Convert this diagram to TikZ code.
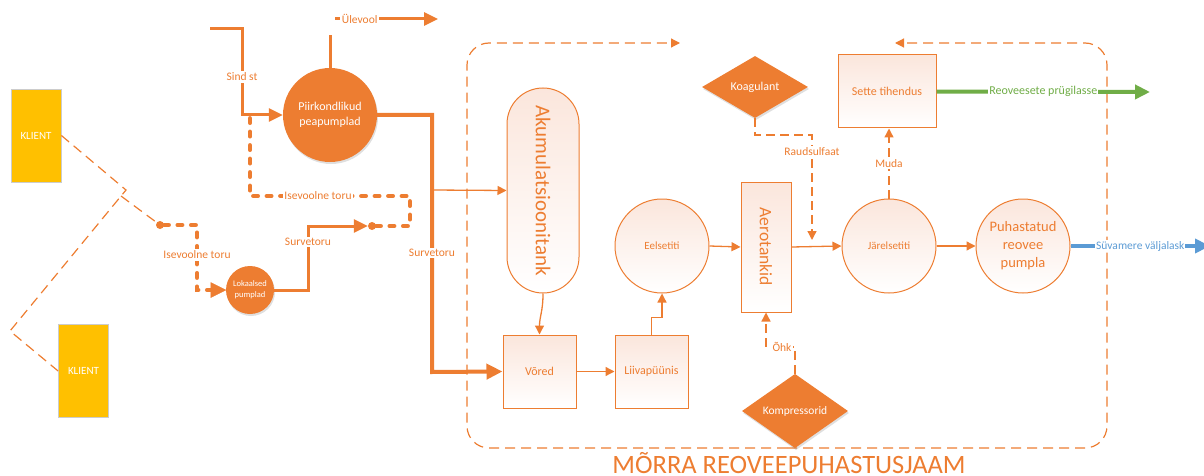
\documentclass[tikz,border=0pt]{standalone}
\usepackage{fontspec}
\setmainfont{Carlito}
\usetikzlibrary{arrows.meta,shapes.geometric,shadows}
\definecolor{org}{HTML}{ED7D31}
\definecolor{yel}{HTML}{FFC000}
\definecolor{grn}{HTML}{70AD47}
\definecolor{blu}{HTML}{5B9BD5}
\definecolor{pk}{HTML}{FBE6DC}
\newcommand\fsz[2]{\fontsize{#1}{#2}\selectfont}
\tikzset{
  client/.style={draw=black!20, line width=0.8pt, fill=yel, minimum width=50pt, minimum height=93pt, inner sep=0pt, text=white, font=\fsz{11}{13}},
  solidc/.style={circle, fill=org, text=white, inner sep=0pt, align=center, drop shadow={opacity=0.25, shadow xshift=1pt, shadow yshift=-2pt}},
  soliddia/.style={diamond, fill=org, text=white, inner sep=0pt, minimum width=106pt, minimum height=62pt, font=\fsz{12}{14}, drop shadow={opacity=0.25, shadow xshift=1pt, shadow yshift=-2pt}},
  lightbox/.style={draw=org, line width=1pt, top color=pk, bottom color=white, text=org, inner sep=0pt, align=center},
  lightc/.style={lightbox, circle, minimum size=94pt},
  tipS/.style={-{Triangle[length=9pt,width=9pt]}},
  tipL/.style={-{Triangle[length=14pt,width=13pt]}},
  thinc/.style={draw=org, line width=1.3pt},
  dashc/.style={draw=org, line width=1.3pt, dash pattern=on 9pt off 5pt},
  pipe/.style={draw=org, line width=3pt},
  bigpipe/.style={draw=org, line width=4pt},
  dotpipe/.style={draw=org, line width=4.5pt, dash pattern=on 4.5pt off 9pt, line cap=round},
  lbl/.style={fill=white, inner sep=1.5pt, text=org, font=\fsz{11.5}{13}},
  dot/.style={circle, fill=org, minimum size=8pt, inner sep=0pt},
}
\begin{document}
\begin{tikzpicture}[x=1pt,y=-1pt]
\useasboundingbox (0,0) rectangle (1204,476);

% clients
\node[client] (k1) at (36,135.5) {KLIENT};
\node[client] (k2) at (83.5,371) {KLIENT};
\node[dot] (d1) at (160,225) {};
\node[dot] (d2) at (372,226) {};
\coordinate (j1) at (126,190);
\coordinate (j2) at (121,196);
\coordinate (j3) at (10,331);
\draw[org, line width=1.2pt, dash pattern=on 10pt off 6pt] (k1.east) -- (j1) -- (j3) -- (k2.west);
\draw[org, line width=1.2pt, dash pattern=on 10pt off 6pt] (j2) -- (d1);

% pump stations
\node[solidc, minimum size=94pt, font=\fsz{12}{15.5}] (pp) at (330,115) {Piirkondlikud\\peapumplad};
\node[solidc, minimum size=48pt, font=\fsz{8.5}{11}] (lp) at (250,290) {Lokaalsed\\pumplad};

% station boundary
\draw[org, line width=1.2pt, dash pattern=on 10pt off 6pt, rounded corners=22pt, tipS] (787,448) -- (467,448) -- (467,43) -- (680,43);
\draw[org, line width=1.2pt, dash pattern=on 10pt off 6pt, rounded corners=22pt, tipS] (787,448) -- (1107,448) -- (1107,43) -- (895,43);
\node[text=org, font=\fsz{26.5}{30}, anchor=base, inner sep=0pt] (title) at (789,473.5) {MÕRRA REOVEEPUHASTUSJAAM};

% process units
\node[lightbox, rounded corners=36pt, minimum width=72pt, minimum height=205pt, font=\fsz{21}{24}] (akt) at (543,190.5) {\rotatebox{-90}{Akumulatsioonitank}};
\node[lightbox, minimum width=73pt, minimum height=73pt, font=\fsz{12}{14}] (vo) at (539.5,371.5) {Võred};
\node[lightbox, minimum width=73pt, minimum height=73pt, font=\fsz{12}{14}] (li) at (651.5,371.5) {Liivapüünis};
\node[lightc, font=\fsz{11}{13}] (es) at (662,246) {Eelsetiti};
\node[lightbox, minimum width=50pt, minimum height=130pt, font=\fsz{17.5}{20}] (ae) at (766,247) {\rotatebox{-90}{Aerotankid}};
\node[lightc, font=\fsz{11}{13}] (js) at (889,246) {Järelsetiti};
\node[lightc, font=\fsz{14.5}{18}] (pu) at (1023,246) {Puhastatud\\reovee\\pumpla};
\node[lightbox, minimum width=98pt, minimum height=73pt, font=\fsz{12}{14}] (st) at (887,91.5) {Sette tihendus};
\node[soliddia] (ko) at (755,87) {Koagulant};
\node[soliddia, font=\fsz{11.5}{14}] (kp) at (795,411) {Kompressorid};

% inflow pipes
\coordinate (s0) at (210,29);
\draw[pipe, tipL] (s0) -- (242,29) -- (242,77) node[lbl]{Sind st} -- (242,115) -- (pp.west);
\draw[pipe] (pp.north) -- ++(0,-33);
\coordinate (u0) at (335,19);
\coordinate (u1) at (438,19);
\draw[pipe, tipL] (u0) -- (u1) node[lbl, pos=0.24]{Ülevool};
\draw[bigpipe, -{Triangle[length=16pt,width=15pt]}] (pp.east) -- (432,115) -- (432,253) node[lbl]{Survetoru} -- (432,372) -- (vo.west);
\coordinate (br) at (432,190);
\draw[thinc, tipS] (br) -- (akt.west);
\draw[dotpipe] (d1) -- (197,225) -- (197,255) node[lbl]{Isevoolne toru} -- (197,290) -- (212,290);
\draw[org, fill=org] (lp.west) -- ++(-15,-7.5) -- ++(0,15) -- cycle;
\draw[pipe, tipL] (lp.east) -- (308,290) -- (308,242) node[lbl]{Survetoru} -- (308,226) -- (d2.west);
\draw[dotpipe] (d2) -- (410,226) -- (410,196) -- (318,196) node[lbl]{Isevoolne toru} -- (250,196) -- (250,115);

% process flow
\draw[thinc, tipS] (akt.south) .. controls +(0,18) and +(0,-18) .. (vo.north);
\draw[thinc, tipS] (vo.east) -- (li.west);
\draw[thinc, tipS] (li.north) -- ++(0,-17) -| (es.south);
\draw[thinc, tipS] (es.east) -- (ae.west);
\draw[thinc, tipS] (ae.east) -- (js.west);
\draw[thinc, tipS] (js.east) -- (pu.west);
\coordinate (rs) at (812,240);
\draw[dashc, tipS] (ko.south) -- (755,135) -- (812,135) -- (812,152) node[lbl]{Raudsulfaat} -- (rs);
\draw[dashc, tipS] (js.north) -- node[lbl]{Muda} (js.north |- st.south);
\draw[dashc, tipS] (kp.north) -- (795,347) -- (782,347) node[lbl]{Õhk} -- (766,347) -- (ae.south);
\coordinate (g1) at (1150,92);
\draw[grn, line width=4pt, -{Triangle[length=15pt,width=14pt]}] (st.east) -- node[fill=white, inner sep=1pt, text=grn, font=\fsz{12}{14}]{Reoveesete prügilasse} (g1);
\coordinate (b1) at (1210,246);
\draw[blu, line width=4pt, -{Triangle[length=15pt,width=14pt]}] (pu.east) -- node[fill=white, inner sep=1pt, text=blu, font=\fsz{11.5}{13}, pos=0.5]{Süvamere väljalask} (b1);
\end{tikzpicture}
\end{document}
